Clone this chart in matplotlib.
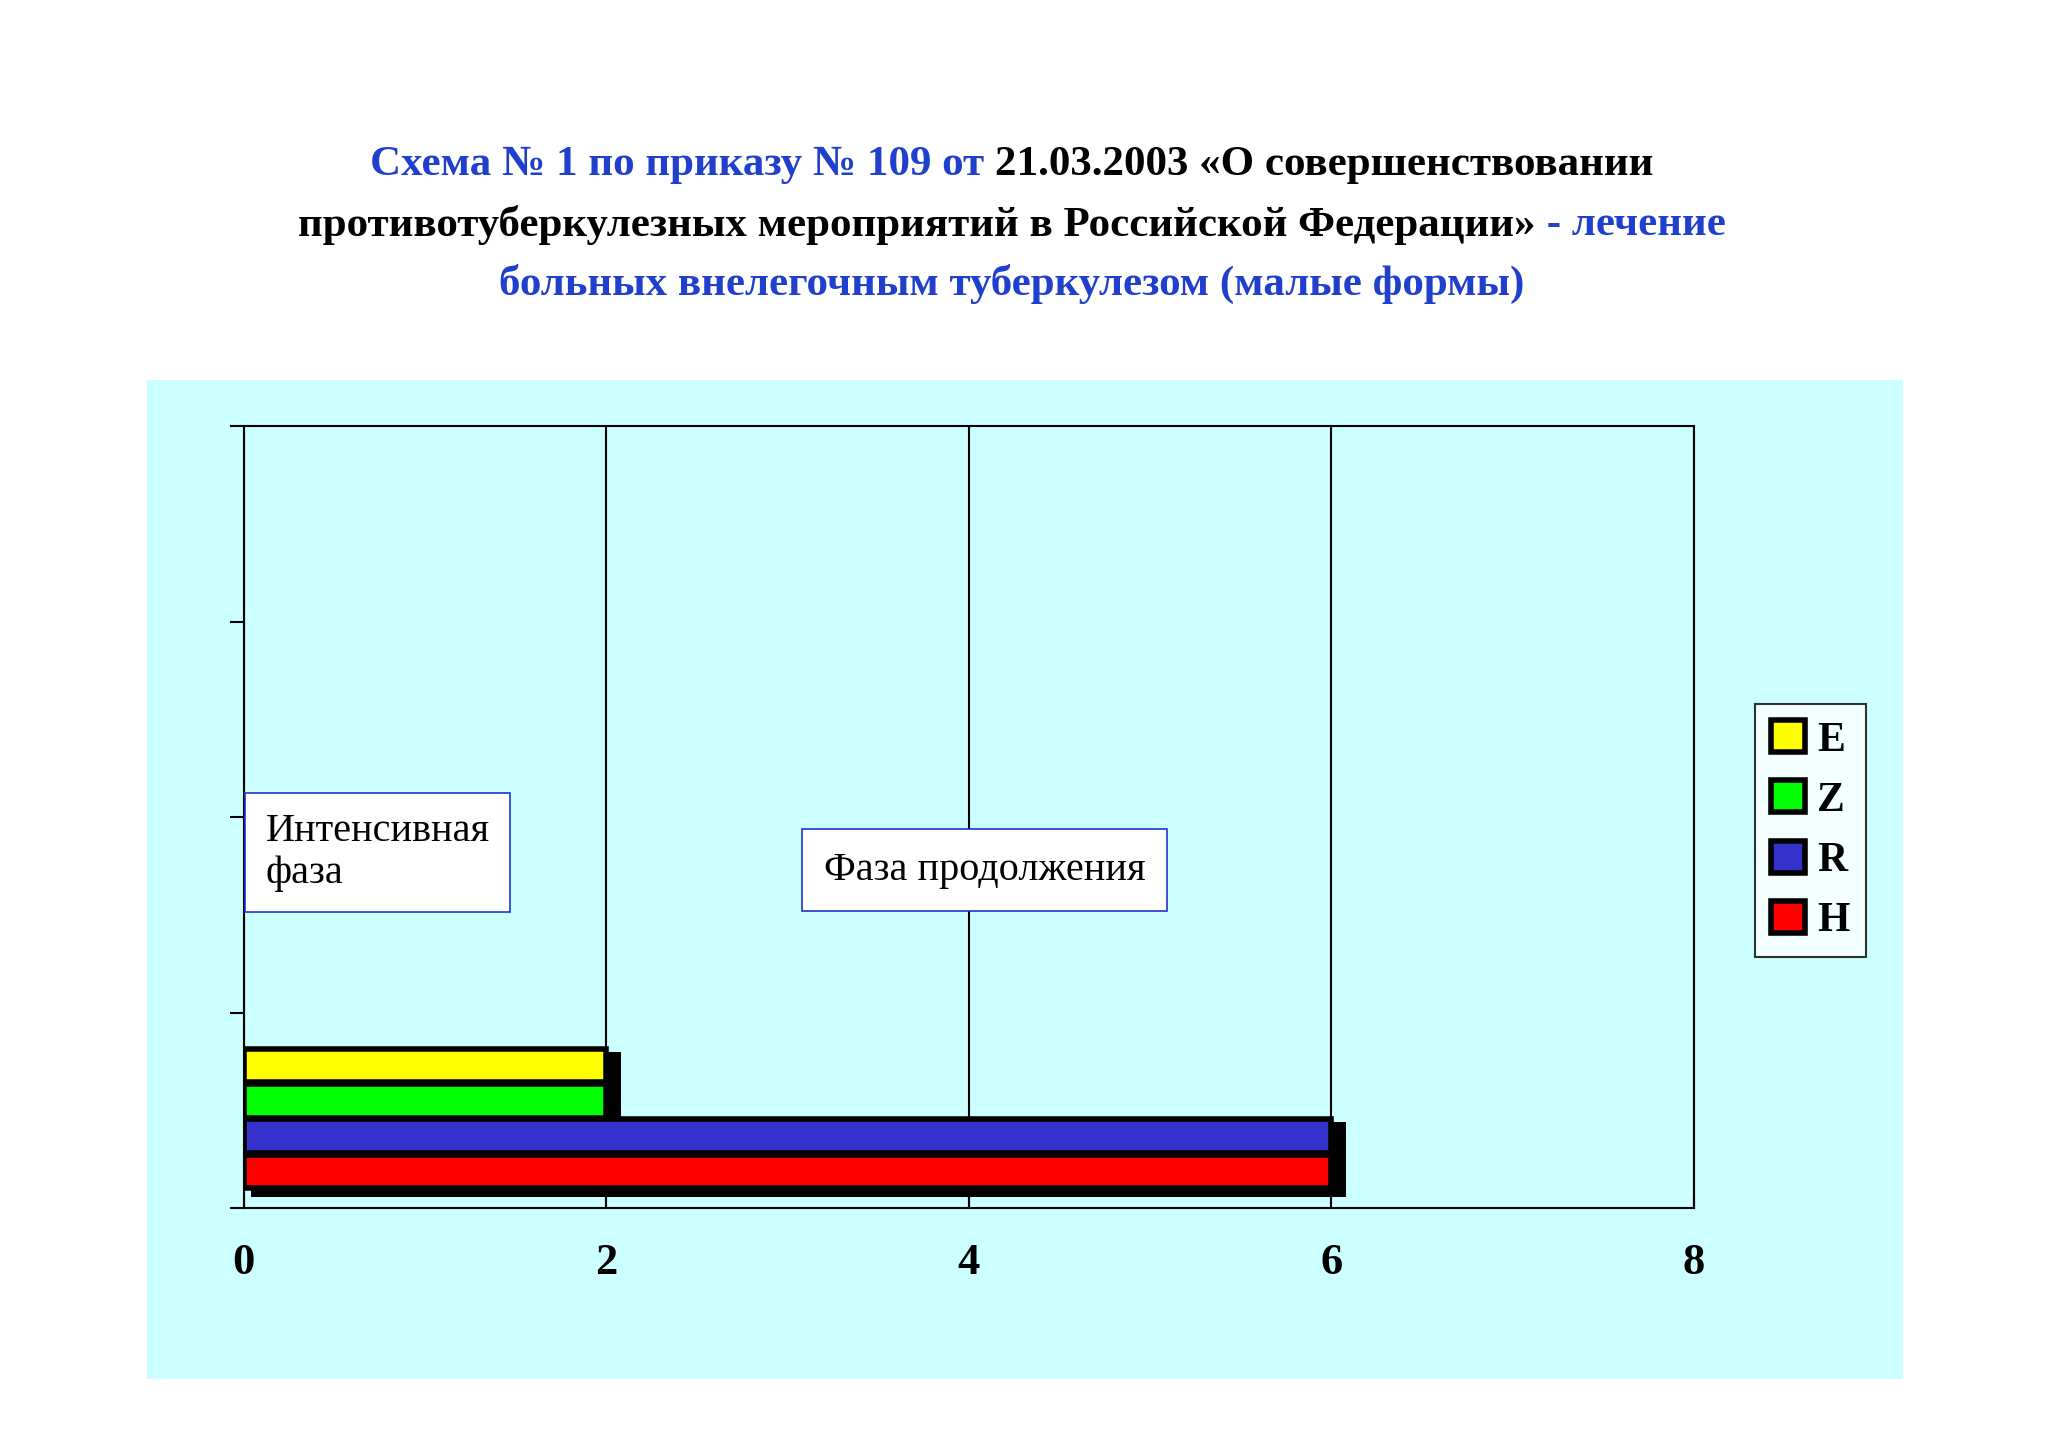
import matplotlib
matplotlib.use("Agg")
import matplotlib.pyplot as plt
from matplotlib.patches import Patch

series = ["H", "R", "Z", "E"]
values = [6, 6, 2, 2]
colors = ["#ff0000", "#3333cc", "#00ff00", "#ffff00"]
xticks = [0, 2, 4, 6, 8]
title_lines = [
    [("Схема № 1 по приказу № 109 от ", "#1f3fcc"), ("21.03.2003 «О совершенствовании", "black")],
    [("противотуберкулезных мероприятий в Российской Федерации»", "black"), (" - лечение", "#1f3fcc")],
    [("больных внелегочным туберкулезом (малые формы)", "#1f3fcc")],
]

plt.rcParams['font.family'] = ['Liberation Serif', 'DejaVu Serif']
fig = plt.figure(figsize=(20.48, 14.49), dpi=100)
fig.patches.append(plt.Rectangle((0.072, 0.048), 0.857, 0.69, transform=fig.transFigure,
                                 facecolor="#ccffff", edgecolor="none", zorder=-1))
ax = fig.add_axes([0.119, 0.166, 0.708, 0.54])
ax.set_facecolor("#ccffff")
ax.set_xlim(0, 8)
ax.set_ylim(0, 4)
ax.set_xticks(xticks)
ax.set_xticklabels([str(t) for t in xticks], fontsize=32, fontweight="bold")
ax.set_yticks([0, 1, 2, 3, 4])
ax.set_yticklabels([])
ax.tick_params(axis="x", length=10, width=1.5, pad=25, direction="in")
ax.tick_params(axis="y", length=10, width=1.5, direction="out")
ax.xaxis.grid(True, color="black", lw=1.5)
ax.set_axisbelow(True)
for s in ax.spines.values():
    s.set_linewidth(1.5)

h = 0.17
ys = [0.13, 0.31, 0.49, 0.67]
for y, v, c in zip(ys, values, colors):
    ax.barh(y + 0.03, v + 0.04, height=h + 0.03, left=0.04, color="black", zorder=3)
    ax.barh(y + 0.06, v, height=h, color=c, edgecolor="black", lw=4, zorder=4)

ax.text(0.12, 1.82, "Интенсивная\nфаза", fontsize=29, va="center", ha="left", linespacing=1.2,
        bbox=dict(boxstyle="square,pad=0.5", fc="white", ec="#2233cc", lw=1.2), zorder=5)
ax.text(3.2, 1.73, "Фаза продолжения", fontsize=29, va="center", ha="left",
        bbox=dict(boxstyle="square,pad=0.55", fc="white", ec="#2233cc", lw=1.2), zorder=5)

handles = [Patch(facecolor=c, edgecolor="black", lw=4) for c in colors[::-1]]
leg = fig.legend(handles, series[::-1], loc="center", bbox_to_anchor=(0.884, 0.427),
                 prop=dict(size=30, weight="bold"), frameon=True, fancybox=False,
                 handlelength=0.8, handleheight=0.8, handletextpad=0.3, labelspacing=0.5,
                 borderpad=0.4)
leg.get_frame().set_edgecolor("black")
leg.get_frame().set_linewidth(1.5)

fig.canvas.draw()
r = fig.canvas.get_renderer()
ypos = [0.886, 0.845, 0.804]
for line, yy in zip(title_lines, ypos):
    txts = [fig.text(0, yy, s, color=c, fontsize=31, fontweight="bold", va="center") for s, c in line]
    widths = [t.get_window_extent(r).width / fig.bbox.width for t in txts]
    x = 0.494 - sum(widths) / 2
    for t, w in zip(txts, widths):
        t.set_x(x)
        x += w

fig.savefig("out.png", dpi=100, facecolor="white")
